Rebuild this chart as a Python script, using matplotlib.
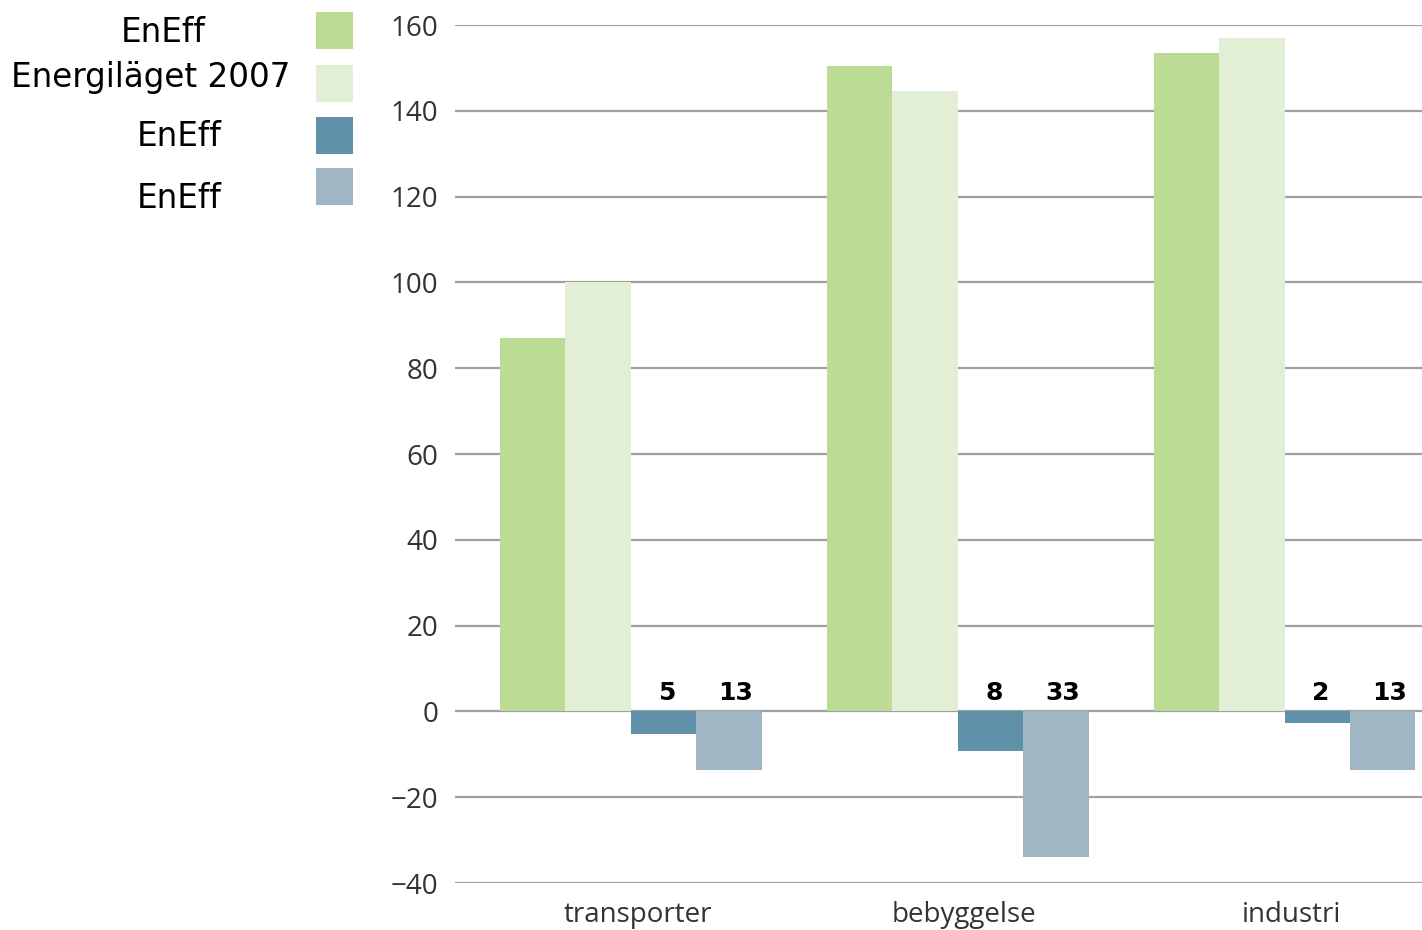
import matplotlib.pyplot as plt
import numpy as np

categories = ["transporter", "bebyggelse", "industri"]
series_labels = ["EnEff", "Energiläget 2007", "EnEff", "EnEff"]
eneff_a = [87, 150.5, 153.5]
energilaget_2007 = [100, 144.5, 157]
eneff_b = [-5.3, -9.2, -2.7]
eneff_c = [-13.6, -34, -13.6]
bar_labels_b = ["5", "8", "2"]
bar_labels_c = ["13", "33", "13"]
yticks = [-40, -20, 0, 20, 40, 60, 80, 100, 120, 140, 160]

colors = ["#bcdc96", "#e2efd6", "#5f92a8", "#a0b6c4"]

fig = plt.figure(figsize=(14.22, 9.3), dpi=100)
ax = fig.add_axes([455 / 1422, 1 - 883 / 930, (1422 - 455) / 1422, (883 - 25) / 930])

x = np.arange(len(categories))
width = 0.2
series = [eneff_a, energilaget_2007, eneff_b, eneff_c]
offsets = [-1.5, -0.5, 0.5, 1.5]
for vals, off, col in zip(series, offsets, colors):
    ax.bar(x + off * width, vals, width, color=col, zorder=3)

# grid lines
for t in yticks:
    ax.axhline(t, color="#a0a0a0", lw=1.6, zorder=1)

ax.set_xlim(-0.538, 2.42)
ax.set_ylim(-40, 160)
ax.set_yticks(yticks)
ax.set_yticklabels([str(t).replace("-", "\u2212") for t in yticks],
                   fontsize=20, color="#333333", family="Open Sans")
ax.tick_params(axis="y", length=0, pad=12)
ax.set_xticks(x + 0.02)
ax.set_xticklabels(categories, fontsize=20, color="#333333", family="Open Sans")
ax.tick_params(axis="x", length=0, pad=13)
for s in ax.spines.values():
    s.set_visible(False)

# value labels above the zero line for the negative bars
for xi, lb, lc in zip(x, bar_labels_b, bar_labels_c):
    ax.text(xi + 0.5 * width + 0.01, 1.5, lb, ha="center", va="bottom",
            fontsize=18, fontweight="bold", color="black")
    ax.text(xi + 1.5 * width + 0.02, 1.5, lc, ha="center", va="bottom",
            fontsize=18, fontweight="bold", color="black")

# legend on the left
text_x = [163, 151, 179, 179]
text_y = [32, 77, 137, 199]
patch_y = [12, 65, 117, 168]
for lbl, tx, ty, py, col in zip(series_labels, text_x, text_y, patch_y, colors):
    fig.text(tx / 1422, 1 - ty / 930, lbl, ha="center", va="center", fontsize=23.5, color="black")
    fig.patches.append(plt.Rectangle((316 / 1422, 1 - (py + 37) / 930), 37 / 1422, 37 / 930,
                                     transform=fig.transFigure, facecolor=col, edgecolor="none"))

plt.savefig("out.png", dpi=100)
